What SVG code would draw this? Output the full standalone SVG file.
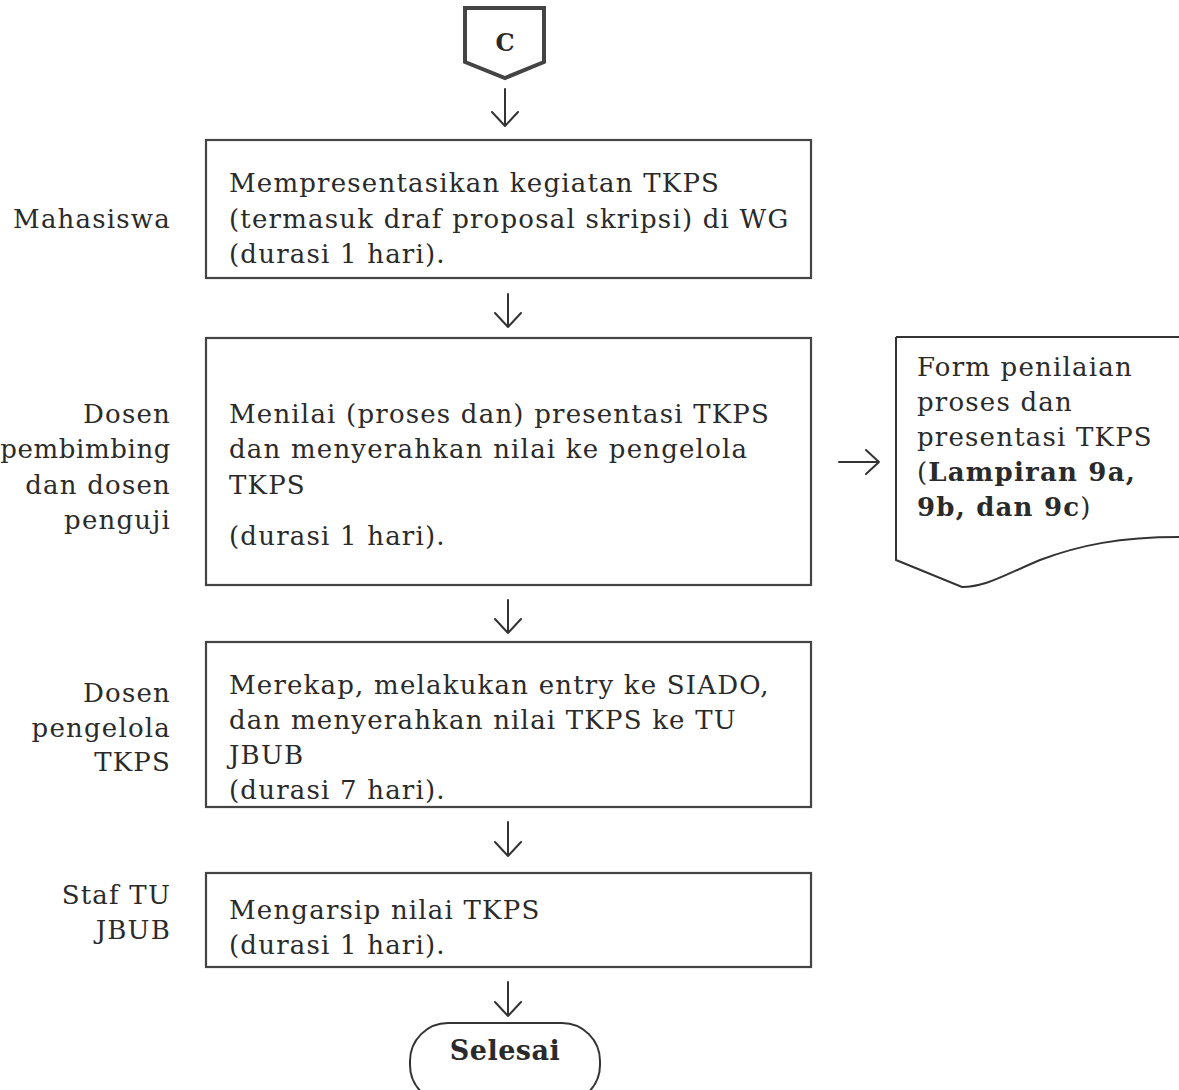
<svg xmlns="http://www.w3.org/2000/svg" width="1179" height="1090" viewBox="0 0 1179 1090">
<defs>
<style>
text{font-family:"DejaVu Serif","Liberation Serif",serif;font-size:26px;letter-spacing:1.2px;fill:#2a2a2a}
.r{text-anchor:end}
.b{font-weight:bold}
.box{fill:#fff;stroke:#444;stroke-width:2.2}
.arr{fill:none;stroke:#333;stroke-width:2;stroke-linecap:round;stroke-linejoin:round}
</style>
</defs>
<rect width="1179" height="1090" fill="#fff"/>
<g id="node-c">
<path d="M465,8 L544,8 L544,62 L505,78 L465,62 Z" fill="#fff" stroke="#444" stroke-width="4" stroke-linejoin="miter"/>
<text x="505" y="51" text-anchor="middle" class="b" style="font-size:24px;letter-spacing:0">C</text>
</g>
<g id="node-1">
<rect class="box" x="206" y="140" width="605" height="138"/>
<text x="229" y="192">Mempresentasikan kegiatan TKPS</text>
<text x="229" y="228">(termasuk draf proposal skripsi) di WG</text>
<text x="229" y="263">(durasi 1 hari).</text>
</g>
<g id="label-1"><text class="r" x="171" y="228">Mahasiswa</text></g>
<g id="node-2">
<rect class="box" x="206" y="338" width="605" height="247"/>
<text x="229" y="423">Menilai (proses dan) presentasi TKPS</text>
<text x="229" y="458">dan menyerahkan nilai ke pengelola</text>
<text x="229" y="494">TKPS</text>
<text x="229" y="545">(durasi 1 hari).</text>
</g>
<g id="label-2">
<text class="r" x="171" y="423">Dosen</text>
<text class="r" x="171" y="458" style="letter-spacing:0.6px">pembimbing</text>
<text class="r" x="171" y="494">dan dosen</text>
<text class="r" x="171" y="529">penguji</text>
</g>
<g id="node-doc">
<path d="M896,337 L1179,337 M1179,537 C1120,537 1080,545 1040,560 C1000,577 985,587 962,587 L896,560 L896,337" fill="#fff" stroke="#333" stroke-width="2"/>
<text x="917" y="376">Form penilaian</text>
<text x="917" y="411">proses dan</text>
<text x="917" y="446">presentasi TKPS</text>
<text x="917" y="481">(<tspan class="b">Lampiran 9a,</tspan></text>
<text x="917" y="516"><tspan class="b">9b, dan 9c</tspan>)</text>
</g>
<g id="node-3">
<rect class="box" x="206" y="642" width="605" height="165"/>
<text x="229" y="694">Merekap, melakukan entry ke SIADO,</text>
<text x="229" y="729">dan menyerahkan nilai TKPS ke TU</text>
<text x="229" y="764">JBUB</text>
<text x="229" y="799">(durasi 7 hari).</text>
</g>
<g id="label-3">
<text class="r" x="171" y="702">Dosen</text>
<text class="r" x="171" y="737">pengelola</text>
<text class="r" x="171" y="771">TKPS</text>
</g>
<g id="node-4">
<rect class="box" x="206" y="873" width="605" height="94"/>
<text x="229" y="919">Mengarsip nilai TKPS</text>
<text x="229" y="954">(durasi 1 hari).</text>
</g>
<g id="label-4">
<text class="r" x="171" y="904">Staf TU</text>
<text class="r" x="171" y="939">JBUB</text>
</g>
<g id="node-end">
<rect x="410" y="1023" width="190" height="80" rx="38" ry="38" fill="#fff" stroke="#333" stroke-width="2"/>
<text x="505" y="1060" text-anchor="middle" class="b" style="font-size:27px;letter-spacing:0.5px">Selesai</text>
</g>
<g id="connectors" class="arr">
<path d="M505,89 V126 M492,112 L505,126 L518,112"/>
<path d="M508,294 V327 M495,313 L508,327 L521,313"/>
<path d="M508,600 V633 M495,619 L508,633 L521,619"/>
<path d="M508,822 V856 M495,842 L508,856 L521,842"/>
<path d="M508,982 V1016 M495,1002 L508,1016 L521,1002"/>
<path d="M839,462 H879 M866,450 L879,462 L866,474"/>
</g>
</svg>
